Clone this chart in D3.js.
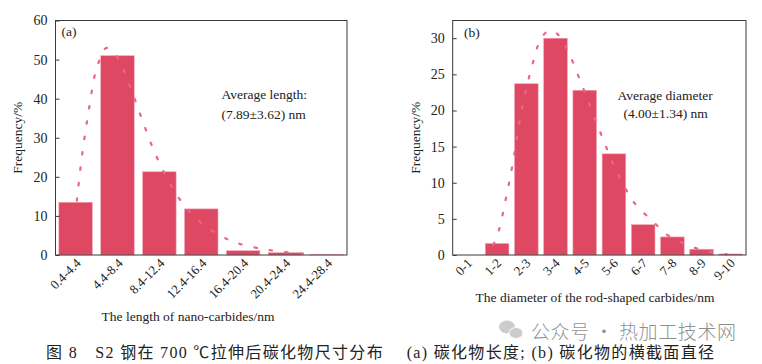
<!DOCTYPE html>
<html>
<head>
<meta charset="utf-8">
<script src="https://cdn.jsdelivr.net/npm/d3@7"></script>
<style>
  body { margin: 0; background: #fff; }
  svg { display: block; }
  text { font-family: "Liberation Serif", "Noto Sans CJK SC", serif; fill: #222; }
</style>
</head>
<body>
<div id="graph"></div>
<script>
// (a) longitud de los carburos
const lengthBins = ["0.4-4.4", "4.4-8.4", "8.4-12.4", "12.4-16.4", "16.4-20.4", "20.4-24.4", "24.4-28.4"];
const lengthFreq = [13.5, 51.0, 21.3, 11.8, 1.1, 0.6, 0.1];
// curva ajustada: [índice de categoría, frecuencia]
const lengthFit = [[0.03, 13.9], [0.16, 26.0], [0.33, 38.1], [0.46, 46.1], [0.57, 49.8], [0.74, 53.0],
  [1.01, 50.4], [1.31, 42.8], [1.57, 35.2], [1.84, 27.5], [2.15, 20.3], [2.52, 13.8], [3.01, 8.1],
  [3.63, 4.0], [4.0, 2.6], [4.6, 1.3], [5.35, 0.4], [5.71, 0.2]];
const lengthTicks = [0, 10, 20, 30, 40, 50, 60];

// (b) diámetro
const diamBins = ["0-1", "1-2", "2-3", "3-4", "4-5", "5-6", "6-7", "7-8", "8-9", "9-10"];
const diamFreq = [0, 1.6, 23.7, 30.0, 22.8, 14.0, 4.2, 2.5, 0.8, 0.15];
const diamFit = [[0.87, 1.4], [1.06, 3.4], [1.30, 7.8], [1.51, 12.1], [1.78, 18.7], [1.99, 22.9],
  [2.26, 27.1], [2.42, 29.2], [2.67, 30.8], [2.85, 31.1], [3.06, 30.6], [3.38, 28.6], [3.81, 24.5],
  [4.19, 20.5], [4.59, 16.4], [5.00, 12.4], [5.49, 8.5], [5.78, 6.8], [6.35, 4.6], [6.75, 3.0],
  [7.17, 2.0], [7.66, 1.15], [8.23, 0.46], [8.86, 0.1]];
const diamTicks = [0, 5, 10, 15, 20, 25, 30];

const caption = "图 8\u2003S2 钢在 700 ℃拉伸后碳化物尺寸分布\u2003 (a) 碳化物长度; (b) 碳化物的横截面直径";

const width = 762, height = 364;
const barColor = "#df4862", fitColor = "#e8668a", axisColor = "#3a3a3a";

const svg = d3.select("#graph").append("svg")
  .attr("width", width)
  .attr("height", height);

svg.append("rect").attr("width", width).attr("height", height).attr("fill", "#fff");

function drawPanel(p) {
  const g = svg.append("g");

  const x = d3.scaleBand()
    .domain(p.bins)
    .range([p.left, p.right])
    .paddingInner(p.padIn)
    .paddingOuter(p.padOut);

  const y = d3.scaleLinear().domain([0, p.yMax]).range([p.bottom, p.top]);

  // índice fraccional -> píxel (centro de la barra)
  const xi = d3.scaleLinear()
    .domain([0, p.bins.length - 1])
    .range([x(p.bins[0]) + x.bandwidth() / 2, x(p.bins[p.bins.length - 1]) + x.bandwidth() / 2]);

  // barras
  g.selectAll("rect.bar")
    .data(p.values)
    .enter()
    .append("rect")
    .attr("class", "bar")
    .attr("x", (d, i) => x(p.bins[i]))
    .attr("width", x.bandwidth())
    .attr("y", d => y(d))
    .attr("height", d => p.bottom - y(d))
    .attr("fill", barColor)
    .attr("stroke", "#f4a9b6")
    .attr("stroke-width", 0.6);

  // curva punteada
  const line = d3.line()
    .x(d => xi(d[0]))
    .y(d => y(d[1]))
    .curve(d3.curveCatmullRom);

  g.append("path")
    .attr("d", line(p.fit))
    .attr("fill", "none")
    .attr("stroke", fitColor)
    .attr("stroke-width", 2.2)
    .attr("stroke-linecap", "round")
    .attr("stroke-dasharray", "2.5 13");

  // marco
  g.append("rect")
    .attr("x", p.left).attr("y", p.top)
    .attr("width", p.right - p.left).attr("height", p.bottom - p.top)
    .attr("fill", "none")
    .attr("stroke", axisColor)
    .attr("stroke-width", 1);

  // eje y
  const yAxis = g.append("g")
    .attr("transform", `translate(${p.left},0)`)
    .call(d3.axisLeft(y).tickValues(p.ticks).tickSize(-4).tickPadding(8));
  yAxis.select(".domain").remove();
  yAxis.selectAll("line").attr("stroke", axisColor);
  yAxis.selectAll("text")
    .style("font-family", "Liberation Serif")
    .style("font-size", "14px")
    .attr("fill", "#222");

  // eje x
  const xAxis = g.append("g")
    .attr("transform", `translate(0,${p.bottom})`)
    .call(d3.axisBottom(x).tickSize(0));
  xAxis.select(".domain").remove();
  xAxis.selectAll("text")
    .style("font-family", "Liberation Serif")
    .style("font-size", "13px")
    .attr("fill", "#222")
    .attr("text-anchor", "end")
    .attr("dy", null)
    .attr("y", 0)
    .attr("transform", `translate(${p.lblDx},${p.lblDy}) rotate(-45)`);

  // títulos
  g.append("text")
    .attr("x", p.xTitleX).attr("y", p.xTitleY)
    .attr("text-anchor", "middle")
    .style("font-size", "13.5px")
    .text(p.xTitle);

  g.append("text")
    .attr("transform", `translate(${p.yTitleX},${(p.top + p.bottom) / 2}) rotate(-90)`)
    .attr("text-anchor", "middle")
    .style("font-size", "13.5px")
    .text("Frequency/%");

  g.append("text")
    .attr("x", p.tagX).attr("y", p.tagY)
    .style("font-size", "13.5px")
    .text(p.tag);

  p.note.forEach((t, k) => {
    g.append("text")
      .attr("x", p.noteX[k]).attr("y", p.noteY[k])
      .style("font-size", "13.5px")
      .text(t);
  });
}

drawPanel({
  bins: lengthBins, values: lengthFreq, fit: lengthFit, ticks: lengthTicks, yMax: 60,
  left: 55.5, right: 347, top: 20.5, bottom: 255,
  padIn: 0.2, padOut: 0.08,
  lblDx: 6, lblDy: 9,
  xTitle: "The length of nano-carbides/nm", xTitleX: 188, xTitleY: 321,
  yTitleX: 22, tag: "(a)", tagX: 61.5, tagY: 36,
  note: ["Average length:", "(7.89±3.62) nm"], noteX: [221.5, 221.5], noteY: [99, 119]
});

drawPanel({
  bins: diamBins, values: diamFreq, fit: diamFit, ticks: diamTicks, yMax: 32.45,
  left: 452.7, right: 746, top: 20.5, bottom: 255,
  padIn: 0.19, padOut: 0.115,
  lblDx: 5, lblDy: 9,
  xTitle: "The diameter of the rod-shaped carbides/nm", xTitleX: 595, xTitleY: 302,
  yTitleX: 420, tag: "(b)", tagX: 464, tagY: 37,
  note: ["Average diameter", "(4.00±1.34) nm"], noteX: [617.5, 623.5], noteY: [100, 118]
});

// marca de agua
const wm = svg.append("g").attr("opacity", 0.5);
wm.append("ellipse").attr("cx", 507).attr("cy", 327).attr("rx", 8).attr("ry", 6.5).attr("fill", "#9a9a9a");
wm.append("ellipse").attr("cx", 516).attr("cy", 333).attr("rx", 7).attr("ry", 5.5).attr("fill", "#9a9a9a")
  .attr("stroke", "#fff").attr("stroke-width", 1);
wm.append("text")
  .attr("x", 531).attr("y", 339)
  .attr("textLength", 205)
  .attr("lengthAdjust", "spacing")
  .style("font-family", "Noto Sans CJK SC")
  .style("font-size", "19px")
  .style("font-weight", 300)
  .attr("fill", "#8a8a8a")
  .text("公众号 · 热加工技术网");

// pie de figura
svg.append("text")
  .attr("x", 46).attr("y", 358)
  .attr("textLength", 668)
  .attr("lengthAdjust", "spacing")
  .style("font-family", "Liberation Serif, Noto Sans CJK SC")
  .style("font-size", "16px")
  .attr("fill", "#222")
  .text(caption);
</script>
</body>
</html>
